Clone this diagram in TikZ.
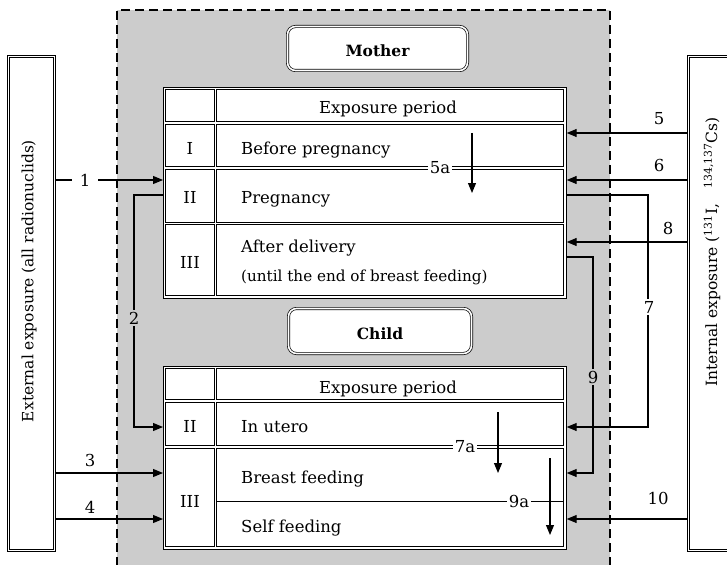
\documentclass[tikz,border=0pt]{standalone}
\usepackage{fontspec}
\setmainfont{DejaVu Serif}
\usetikzlibrary{arrows.meta}
\definecolor{bg}{gray}{0.80}
\begin{document}
\begin{tikzpicture}[x=1pt,y=-1pt,
  every node/.style={font=\fontsize{16.5}{19}\selectfont, inner sep=0pt},
  arr/.style={-{Triangle[length=10pt,width=8pt]}, line width=1.1pt},
  cell/.style={draw, line width=0.7pt},
  dbl/.style={draw, line width=0.7pt, double=white, double distance=1.6pt},
  tbl/.style={draw, line width=0.7pt, fill=white, anchor=north west},
  gapw/.style={fill=white, inner sep=2pt},
  gapg/.style={fill=bg, inner sep=2pt},
  small/.style={font=\fontsize{15.2}{17}\selectfont},
  side/.style={font=\fontsize{15.5}{18}\selectfont}]
\clip (0,0) rectangle (727,564);
% shaded region with dashed border
\fill[bg] (117,10) rectangle (610,580);
\draw[dash pattern=on 9pt off 5pt, line width=2.4pt] (117,580) -- (117,10) -- (610,10) -- (610,580);

% side boxes
\node[dbl, fill=white, minimum width=46.2, minimum height=494.2] (ext) at (31.5,303.5) {};
\node[side, rotate=90] (extt) at (29,281) {External exposure (all radionuclids)};
\node[dbl, fill=white, minimum width=71.6, minimum height=494.2] (int) at (724.2,303.5) {};
\node[side, rotate=90] (intt) at (712,252) {Internal exposure (\textsuperscript{131}I,\quad\textsuperscript{134,137}Cs)};

% Mother
\node[dbl, fill=white, rounded corners=8pt, minimum width=180, minimum height=44] (mother) at (377.5,48.5) {};
\node[anchor=base, font=\fontsize{15.5}{18}\selectfont\bfseries] (mothert) at (377.5,57) {Mother};
\node[tbl, minimum width=403, minimum height=211] (mt) at (163,87) {};
\draw[cell] (165.5,89.5) rectangle (214.5,121.5);
\draw[cell] (216.5,89.5) rectangle (563.5,121.5);
\draw[cell] (165.5,124) rectangle (214.5,166.5);
\draw[cell] (216.5,124) rectangle (563.5,166.5);
\draw[cell] (165.5,169) rectangle (214.5,222);
\draw[cell] (216.5,169) rectangle (563.5,222);
\draw[cell] (165.5,224.5) rectangle (214.5,295.5);
\draw[cell] (216.5,224.5) rectangle (563.5,295.5);
\node[anchor=base] (mh) at (388,114) {Exposure period};
\node[anchor=base] (m1) at (190,154) {I};
\node[anchor=base] (m2) at (190,203) {II};
\node[anchor=base] (m3) at (190,268) {III};
\node[anchor=base west] (mbp) at (241,154) {Before pregnancy};
\node[anchor=base west] (mp) at (241,203) {Pregnancy};
\node[anchor=base west] (mad) at (241,252) {After delivery};
\node[anchor=base west, small] (mun) at (241,281) {(until the end of breast feeding)};
\coordinate (a5s) at (472,133);
\coordinate (a5e) at (472,193);
\draw[arr] (a5s) -- (a5e);
\node[gapw] (l5a) at (440,168) {5a};

% Child
\node[dbl, fill=white, rounded corners=8pt, minimum width=183, minimum height=45] (child) at (380,331) {};
\node[anchor=base, font=\fontsize{15.5}{18}\selectfont\bfseries] (childt) at (380,339) {Child};
\node[tbl, minimum width=403, minimum height=183] (ct) at (163,366) {};
\draw[cell] (165.5,368.5) rectangle (214.5,399.5);
\draw[cell] (216.5,368.5) rectangle (563.5,399.5);
\draw[cell] (165.5,402) rectangle (214.5,445.5);
\draw[cell] (216.5,402) rectangle (563.5,445.5);
\draw[cell] (165.5,448) rectangle (214.5,546.5);
\draw[cell] (216.5,448) rectangle (563.5,546.5);
\draw[line width=0.7pt] (216.5,501) -- (563.5,501);
\node[anchor=base] (ch) at (388,393) {Exposure period};
\node[anchor=base] (c2) at (190,432) {II};
\node[anchor=base] (c3) at (190,507) {III};
\node[anchor=base west] (ciu) at (241,432) {In utero};
\node[anchor=base west] (cbf) at (241,483) {Breast feeding};
\node[anchor=base west] (csf) at (241,532) {Self feeding};
\coordinate (a7s) at (498,412);
\coordinate (a7e) at (498,473);
\draw[arr] (a7s) -- (a7e);
\node[gapw] (l7a) at (465,447) {7a};
\coordinate (a9s) at (550,458);
\coordinate (a9e) at (550,535);
\draw[arr] (a9s) -- (a9e);
\node[gapw] (l9a) at (519,501) {9a};

% connectors from external exposure
\draw[arr] (ext.east |- 0,180) -- (mt.west |- 0,180) node[pos=0.28, gapw, inner xsep=8pt] (l1) {1};
\draw[arr] (mt.west |- 0,195) -- (134,195) -- (134,427) -- (ct.west |- 0,427);
\node[gapg] (l2) at (134,318) {2};
\draw[arr] (ext.east |- 0,473) -- (ct.west |- 0,473);
\node (l3) at (90,460) {3};
\draw[arr] (ext.east |- 0,519) -- (ct.west |- 0,519);
\node (l4) at (90,507) {4};

% connectors from internal exposure
\draw[arr] (int.west |- 0,133) -- (mt.east |- 0,133);
\node (l5) at (659,119) {5};
\draw[arr] (int.west |- 0,180) -- (mt.east |- 0,180);
\node (l6) at (659,165) {6};
\draw[arr] (int.west |- 0,242) -- (mt.east |- 0,242);
\node (l8) at (668,228) {8};
\draw[arr] (mt.east |- 0,195) -- (648,195) -- (648,427) -- (ct.east |- 0,427);
\node[gapw] (l7) at (649,307) {7};
\draw[arr] (mt.east |- 0,257) -- (593,257) -- (593,473) -- (ct.east |- 0,473);
\node[gapg] (l9) at (593,377) {9};
\draw[arr] (int.west |- 0,519) -- (ct.east |- 0,519);
\node (l10) at (658,498) {10};
\end{tikzpicture}
\end{document}
